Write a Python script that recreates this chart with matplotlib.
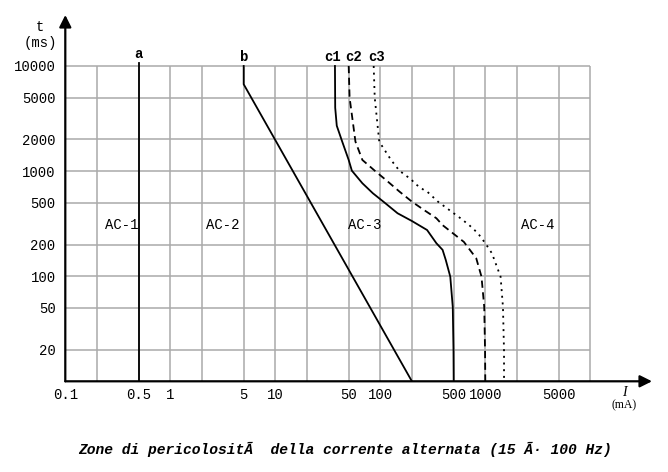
'''
    Zone di pericolosita della corrente alternata (IEC 60479), log-log chart
'''

import numpy as np
import matplotlib
matplotlib.use("Agg")
import matplotlib.pyplot as plt

W, H = 668, 472

## Grid and tick values
x_grid = [0.2, 0.5, 1, 2, 5, 10, 20, 50, 100, 200, 500, 1000, 2000, 5000, 10000]
y_grid = [20, 50, 100, 200, 500, 1000, 2000, 5000, 10000]
x_ticks = [0.1, 0.5, 1, 5, 10, 50, 100, 500, 1000, 5000]
x_labels = ["0.1", "0.5", "1", "5", "10", "50", "100", "500", "1000", "5000"]
y_ticks = [20, 50, 100, 200, 500, 1000, 2000, 5000, 10000]
y_labels = ["20", "50", "100", "200", "500", "1000", "2000", "5000", "10000"]

## Curves: current I (mA) vs time t (ms)
a_I = [0.5, 0.5]
a_t = [10, 10600]

b_I = [5, 5, 200]
b_t = [10000, 6700, 10]

c1_I = [37, 37.2, 38.5, 43.4, 50, 53.6, 67.5, 85, 107, 146, 200, 279, 342, 392, 420, 464, 490, 498, 500]
c1_t = [10000, 4000, 2700, 1905, 1276, 1009, 766, 615, 512, 397, 335, 275, 206, 178, 143, 99, 51, 19.4, 10]

c2_I = [50, 51, 58, 67.5, 88.5, 116, 152, 200, 260, 342, 392, 625, 820, 920, 977, 995, 1000]
c2_t = [10000, 5000, 1905, 1276, 1009, 806, 639, 512, 427, 356, 306, 212, 148, 99, 51, 19.4, 10]

c3_I = [86.5, 88.5, 97.7, 127, 152, 200, 211, 260, 279, 354, 500, 580, 703, 851, 1000, 1157, 1398, 1473, 1508, 1508]
c3_t = [10000, 5000, 1905, 1270, 1009, 822, 766, 661, 639, 512, 397, 356, 306, 256, 206, 165, 99, 51, 19.4, 10]

curve_names = ["a", "b", "c1", "c2", "c3"]
name_I = [0.5, 5, 35.5, 55.6, 93]
name_t = [13000, 12100, 12100, 12100, 12100]

zones = ["AC-1", "AC-2", "AC-3", "AC-4"]
zone_I = [0.347, 3.18, 70.8, 3177]
zone_t = [307, 307, 307, 307]

MONO = "Liberation Mono"


def px_axes():
    # axes box in pixels: left, bottom (from top), right, top (from top)
    left, bottom, right, top = 65.3, 381.3, 652, 15
    return [left / W, 1 - bottom / H, (right - left) / W, (bottom - top) / H]


if __name__ == "__main__":
    fig = plt.figure(figsize=(W / 100, H / 100), dpi=100)
    ax = fig.add_axes(px_axes())
    ax.set_xscale("log")
    ax.set_yscale("log")
    ax.set_xlim(0.1, 38700)
    ax.set_ylim(10, 30550)

    for s in ax.spines.values():
        s.set_visible(False)

    ## grid, limited to the 0.1..10000 x 10..10000 box
    ax.vlines(x_grid, 10, 10000, colors="#aaaaaa", lw=1.1, zorder=1)
    ax.hlines(y_grid, 0.1, 10000, colors="#aaaaaa", lw=1.1, zorder=1)

    ## axes with arrows
    ax.annotate("", xy=(1, 0), xytext=(0, 0), xycoords="axes fraction",
                arrowprops=dict(arrowstyle="-|>", color="black", lw=1.6,
                                mutation_scale=18, shrinkA=0, shrinkB=0))
    ax.annotate("", xy=(0, 1), xytext=(0, 0), xycoords="axes fraction",
                arrowprops=dict(arrowstyle="-|>", color="black", lw=1.6,
                                mutation_scale=18, shrinkA=0, shrinkB=0))

    ## ticks
    ax.set_xticks(x_ticks)
    ax.set_xticklabels(x_labels)
    ax.set_yticks(y_ticks)
    ax.set_yticklabels(y_labels)
    ax.minorticks_off()
    ax.tick_params(axis="x", length=0, pad=5)
    ax.tick_params(axis="y", length=0, pad=7)
    for lab in ax.get_xticklabels() + ax.get_yticklabels():
        lab.set_fontfamily(MONO)
        lab.set_fontsize(10)

    ## curves
    lw = 1.3
    kw = dict(color="black", lw=lw, zorder=3, solid_joinstyle="round")
    ax.plot(a_I, a_t, **kw)
    ax.plot(b_I, b_t, **kw)
    ax.plot(c1_I, c1_t, **kw)
    ax.plot(c2_I, c2_t, ls=(0, (4, 2.5)), **kw)
    ax.plot(c3_I, c3_t, ls=(0, (1.1, 2.6)), **kw)

    for n, xi, ti in zip(curve_names, name_I, name_t):
        ax.text(xi, ti, n, ha="center", va="center", fontfamily=MONO,
                fontweight="bold", fontsize=10)

    for z, xi, ti in zip(zones, zone_I, zone_t):
        ax.text(xi, ti, z, ha="center", va="center", fontfamily=MONO, fontsize=10)

    ## axis titles
    fig.text(40 / W, 1 - 27 / H, "t", ha="center", va="center", fontfamily=MONO, fontsize=10)
    fig.text(40 / W, 1 - 43 / H, "(ms)", ha="center", va="center", fontfamily=MONO, fontsize=10)
    fig.text(624 / W, 1 - 393 / H, "I", ha="center", va="center",
             fontfamily="Liberation Serif", fontstyle="italic", fontsize=10)
    fig.text(624 / W, 1 - 405 / H, "(mA)", ha="center", va="center",
             fontfamily="Liberation Serif", fontsize=8.5)

    fig.text(345 / W, 1 - 449 / H,
             "Zone di pericolosit\u00c3\u00a0 della corrente alternata (15 \u00c3\u00b7 100 Hz)",
             ha="center", va="center", fontfamily=MONO, fontweight="bold",
             fontstyle="italic", fontsize=10.5)

    fig.savefig("out.png", dpi=100)
